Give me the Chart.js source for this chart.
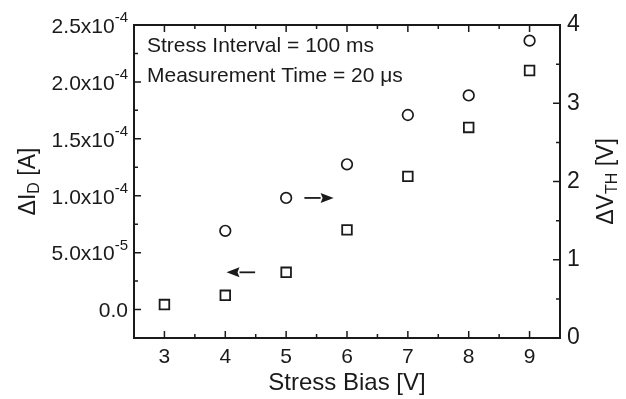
<!DOCTYPE html>
<html>
<head>
<meta charset="utf-8">
<script src="https://cdn.jsdelivr.net/npm/chart.js@4.4.0/dist/chart.umd.min.js"></script>
<style>
  html, body { margin: 0; background: #fff; }
  #wrap { width: 626px; height: 399px; position: relative; }
</style>
</head>
<body>
<div id="wrap"><canvas id="chart"></canvas></div>
<script>
// stress bias sweep
const biasVolts = [3, 4, 5, 6, 7, 8, 9];
const deltaId = [4.4e-6, 1.25e-5, 3.27e-5, 7.0e-5, 1.17e-4, 1.60e-4, 2.10e-4];
const vthBias = [4, 5, 6, 7, 8, 9];
const deltaVth = [1.37, 1.79, 2.22, 2.85, 3.10, 3.80];

// axis ticks
const xTicks = [3, 4, 5, 6, 7, 8, 9];
const idTicks = [0, 5e-5, 1e-4, 1.5e-4, 2e-4, 2.5e-4];
const idTickBase = ["0.0", "5.0x10", "1.0x10", "1.5x10", "2.0x10", "2.5x10"];
const idTickExp = ["", "-5", "-4", "-4", "-4", "-4"];
const vthTicks = [0, 1, 2, 3, 4];

// arrows pointing each series to its axis: [x from, x to, y]
const idArrow = [4.49, 4.02, 3.27e-5];
const vthArrow = [5.30, 5.78, 1.79];

const INK = "#1a1a1a";
const FONT = "'Liberation Sans', Arial, sans-serif";

function font(size) { return size + "px " + FONT; }

// draws a run of [text, size, dy] pieces centred on 0 along the current baseline
function drawRuns(ctx, runs) {
  let total = 0;
  runs.forEach(r => { ctx.font = font(r[1]); total += ctx.measureText(r[0]).width; });
  let x = -total / 2;
  runs.forEach(r => {
    ctx.font = font(r[1]);
    ctx.fillText(r[0], x, r[2]);
    x += ctx.measureText(r[0]).width;
  });
}

function arrow(ctx, x0, x1, y) {
  const dir = Math.sign(x1 - x0);
  const head = 13;
  ctx.beginPath();
  ctx.moveTo(x0, y);
  ctx.lineTo(x1 - dir * head, y);
  ctx.stroke();
  ctx.beginPath();
  ctx.moveTo(x1, y);
  ctx.lineTo(x1 - dir * head, y - 5);
  ctx.lineTo(x1 - dir * (head - 2), y);
  ctx.lineTo(x1 - dir * head, y + 5);
  ctx.closePath();
  ctx.fill();
}

const framePlugin = {
  id: "frame",
  afterDraw(chart) {
    const { ctx, chartArea: a, scales } = chart;
    const sx = scales.x, sI = scales.yI, sV = scales.yV;
    ctx.save();
    ctx.strokeStyle = INK;
    ctx.fillStyle = INK;

    // box
    ctx.lineWidth = 2;
    ctx.strokeRect(a.left, a.top, a.right - a.left, a.bottom - a.top);

    // inward ticks
    ctx.lineWidth = 1.5;
    ctx.beginPath();
    for (let v = 2.5; v <= 9.5; v += 0.5) {
      const px = sx.getPixelForValue(v);
      const len = Number.isInteger(v) ? 7 : 4;
      ctx.moveTo(px, a.bottom); ctx.lineTo(px, a.bottom - len);
      ctx.moveTo(px, a.top); ctx.lineTo(px, a.top + len);
    }
    for (let i = -1; i <= 10; i++) {
      const v = i * 2.5e-5;
      const py = sI.getPixelForValue(v);
      if (py < a.top - 1 || py > a.bottom + 1) continue;
      const len = i % 2 === 0 ? 7 : 4;
      ctx.moveTo(a.left, py); ctx.lineTo(a.left + len, py);
    }
    for (let i = 0; i <= 8; i++) {
      const py = sV.getPixelForValue(i * 0.5);
      const len = i % 2 === 0 ? 7 : 4;
      ctx.moveTo(a.right, py); ctx.lineTo(a.right - len, py);
    }
    ctx.stroke();

    // x tick labels
    ctx.font = font(21);
    ctx.textAlign = "center";
    ctx.textBaseline = "top";
    xTicks.forEach(v => ctx.fillText(String(v), sx.getPixelForValue(v), a.bottom + 9));

    // left tick labels with exponents
    ctx.textAlign = "right";
    ctx.textBaseline = "middle";
    idTicks.forEach((v, i) => {
      const py = sI.getPixelForValue(v);
      let right = a.left - 6;
      if (idTickExp[i]) {
        ctx.font = font(15);
        ctx.fillText(idTickExp[i], right, py - 7);
        right -= ctx.measureText(idTickExp[i]).width;
      }
      ctx.font = font(21);
      ctx.fillText(idTickBase[i], right, py + 2);
    });

    // right tick labels
    ctx.font = font(23);
    ctx.textAlign = "left";
    vthTicks.forEach(v => ctx.fillText(String(v), a.right + 7, sV.getPixelForValue(v)));

    // axis titles
    const midY = (a.top + a.bottom) / 2;
    ctx.textAlign = "center";
    ctx.font = font(24);
    ctx.fillText("Stress Bias [V]", (a.left + a.right) / 2, a.bottom + 45);

    ctx.textAlign = "left";
    ctx.textBaseline = "middle";
    ctx.save();
    ctx.translate(29, midY);
    ctx.rotate(-Math.PI / 2);
    drawRuns(ctx, [["\u0394I", 23, 0], ["D", 16, 6], [" [A]", 23, 0]]);
    ctx.restore();

    ctx.save();
    ctx.translate(607, midY);
    ctx.rotate(-Math.PI / 2);
    drawRuns(ctx, [["\u0394V", 23, 0], ["TH", 16, 6], [" [V]", 23, 0]]);
    ctx.restore();

    // conditions
    ctx.font = font(21);
    ctx.textBaseline = "middle";
    ctx.fillText("Stress Interval = 100 ms", a.left + 13, a.top + 21);
    ctx.fillText("Measurement Time = 20 \u03bcs", a.left + 13, a.top + 51);

    // arrows
    ctx.lineWidth = 1.8;
    arrow(ctx, sx.getPixelForValue(idArrow[0]), sx.getPixelForValue(idArrow[1]), sI.getPixelForValue(idArrow[2]));
    arrow(ctx, sx.getPixelForValue(vthArrow[0]), sx.getPixelForValue(vthArrow[1]), sV.getPixelForValue(vthArrow[2]));

    ctx.restore();
  }
};

new Chart(document.getElementById("chart"), {
  type: "scatter",
  data: {
    datasets: [
      {
        label: "\u0394ID",
        data: biasVolts.map((x, i) => ({ x, y: deltaId[i] })),
        yAxisID: "yI",
        pointStyle: "rect",
        pointRadius: 6.8,
        borderWidth: 1.8,
        borderColor: INK,
        backgroundColor: "rgba(255,255,255,0)"
      },
      {
        label: "\u0394VTH",
        data: vthBias.map((x, i) => ({ x, y: deltaVth[i] })),
        yAxisID: "yV",
        pointStyle: "circle",
        pointRadius: 5.3,
        borderWidth: 1.7,
        borderColor: INK,
        backgroundColor: "rgba(255,255,255,0)"
      }
    ]
  },
  options: {
    responsive: true,
    maintainAspectRatio: false,
    animation: false,
    layout: { padding: { left: 134, top: 25, right: 66, bottom: 61 } },
    plugins: { legend: { display: false }, tooltip: { enabled: false } },
    scales: {
      x: { type: "linear", min: 2.5, max: 9.5, display: false },
      yI: { type: "linear", position: "left", min: -2.5e-5, max: 2.5e-4, display: false },
      yV: { type: "linear", position: "right", min: 0, max: 4, display: false }
    }
  },
  plugins: [framePlugin]
});
</script>
</body>
</html>
